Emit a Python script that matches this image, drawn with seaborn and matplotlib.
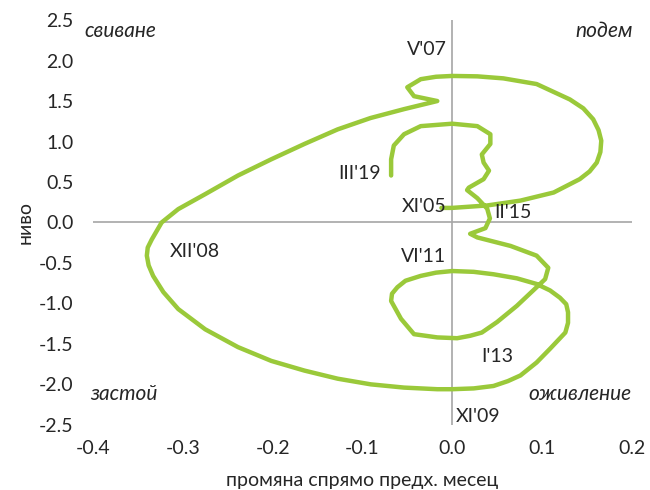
import matplotlib
matplotlib.use('Agg')
from matplotlib import pyplot as plt
import seaborn as sns
import pandas as pd

# path, XI'05 -> III'19
change = [-0.012, 0.0, 0.039, 0.076, 0.113, 0.142, 0.153, 0.161, 0.165, 0.166, 0.163,
          0.157, 0.146, 0.131, 0.094, 0.057, 0.028, 0.0, -0.018, -0.035, -0.05, -0.0425,
          -0.0166, -0.0536, -0.091, -0.1275, -0.1645, -0.2015, -0.2385, -0.275, -0.305,
          -0.3235, -0.3345, -0.339, -0.340, -0.338, -0.333, -0.3216, -0.305, -0.275,
          -0.2385, -0.2015, -0.1645, -0.1275, -0.0906, -0.0536, -0.0166, 0.0, 0.024,
          0.046, 0.062, 0.076, 0.094, 0.109, 0.126, 0.129, 0.129, 0.127, 0.120, 0.109,
          0.094, 0.072, 0.046, 0.024, 0.0, -0.018, -0.035, -0.052, -0.061, -0.067,
          -0.068, -0.057, -0.0425, -0.0166, 0.0055, 0.020, 0.033, 0.050, 0.072, 0.094,
          0.1035, 0.107, 0.094, 0.065, 0.028, 0.020, 0.037, 0.042, 0.039, 0.028, 0.0166,
          0.0185, 0.035, 0.041, 0.035, 0.033, 0.0425, 0.0425, 0.028, 0.0, -0.035,
          -0.0536, -0.065, -0.068, -0.068]
level = [0.18, 0.18, 0.21, 0.27, 0.37, 0.535, 0.63, 0.74, 0.87, 1.01, 1.14,
         1.275, 1.41, 1.52, 1.71, 1.78, 1.805, 1.81, 1.80, 1.77, 1.67, 1.56,
         1.50, 1.40, 1.29, 1.15, 0.97, 0.78, 0.58, 0.35, 0.165,
         0.0, -0.21, -0.31, -0.41, -0.53, -0.66, -0.86, -1.07, -1.32,
         -1.54, -1.71, -1.83, -1.93, -2.0, -2.04, -2.06, -2.06, -2.05,
         -2.02, -1.96, -1.89, -1.73, -1.56, -1.36, -1.24, -1.11, -1.01, -0.93, -0.84,
         -0.76, -0.69, -0.64, -0.61, -0.60, -0.62, -0.66, -0.72, -0.80, -0.88,
         -0.97, -1.19, -1.38, -1.42, -1.43, -1.40, -1.36, -1.23, -1.03, -0.80,
         -0.70, -0.56, -0.41, -0.29, -0.185, -0.14, -0.07, 0.05, 0.17, 0.30, 0.40,
         0.43, 0.535, 0.64, 0.74, 0.84, 0.97, 1.09, 1.19, 1.22, 1.19,
         1.09, 0.95, 0.78, 0.58]

date_labels = ["V'07", "III'19", "XI'05", "II'15", "XII'08", "VI'11", "I'13", "XI'09"]
date_x = [-0.0285, -0.103, -0.031, 0.068, -0.286, -0.032, 0.05, 0.029]
date_y = [2.14, 0.60, 0.196, 0.125, -0.36, -0.417, -1.65, -2.4]

phases = ["свиване", "подем", "застой", "оживление"]
phase_x = [-0.41, 0.201, -0.403, 0.2]
phase_y = [2.37, 2.37, -2.125, -2.125]
phase_ha = ["left", "right", "left", "right"]

sns.set_style("white")
plt.rcParams['font.family'] = ['Lato', 'DejaVu Sans']

df = pd.DataFrame({"change": change, "level": level})

fig = plt.figure(figsize=(6.5, 4.9), dpi=100)
ax = fig.add_axes([0.143, 0.133, 0.829, 0.826])

ax.axhline(0, color="#a6a6a6", lw=1.2, zorder=1)
ax.axvline(0, color="#a6a6a6", lw=1.2, zorder=1)
sns.lineplot(data=df, x="change", y="level", sort=False, estimator=None,
             color="#9ac93a", lw=3.2, ax=ax, zorder=2,
             solid_joinstyle="round", solid_capstyle="round")

for t, x, y in zip(date_labels, date_x, date_y):
    ax.text(x, y, t, fontsize=14, ha="center", va="center", zorder=3)
for t, x, y, ha in zip(phases, phase_x, phase_y, phase_ha):
    ax.text(x, y, t, fontsize=15, style="italic", ha=ha, va="center")

ax.set_xlim(-0.4, 0.2)
ax.set_ylim(-2.5, 2.5)
ax.set_xticks([-0.4, -0.3, -0.2, -0.1, 0.0, 0.1, 0.2])
ax.set_yticks([-2.5, -2.0, -1.5, -1.0, -0.5, 0.0, 0.5, 1.0, 1.5, 2.0, 2.5])
ax.set_xticklabels([f"{v:.1f}" for v in ax.get_xticks()])
ax.set_yticklabels([f"{v:.1f}" for v in ax.get_yticks()])
ax.tick_params(axis="both", length=0, labelsize=14)
ax.tick_params(axis="x", pad=11)
ax.tick_params(axis="y", pad=14)
for s in ax.spines.values():
    s.set_visible(False)
ax.set_xlabel("промяна спрямо предх. месец", fontsize=14, labelpad=11)
ax.set_ylabel("ниво", fontsize=14, labelpad=4)

plt.savefig("out.png", dpi=100)
